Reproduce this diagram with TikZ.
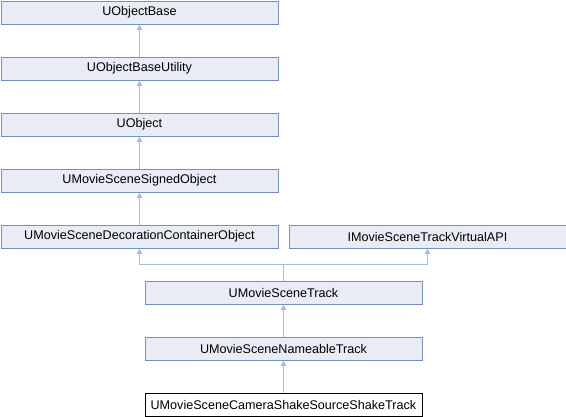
\documentclass[tikz,border=0pt]{standalone}
\usepackage{fontspec}
\setmainfont{Liberation Sans}
\usetikzlibrary{arrows.meta}
\definecolor{boxfill}{HTML}{E8ECF5}
\definecolor{boxdraw}{HTML}{7A8EC6}
\definecolor{edgecol}{HTML}{93C4E2}
\tikzset{
  cls/.style={draw=boxdraw, fill=boxfill, line width=0.9pt, minimum width=277pt, minimum height=23.5pt, inner sep=0pt, anchor=north west, font=\fontsize{12.6pt}{14pt}\selectfont},
  clsmain/.style={cls, draw=black, fill=white},
  inh/.style={draw=edgecol, line width=0.9pt, -{Triangle[width=5.5pt,length=5pt]}}
}
\begin{document}
\begin{tikzpicture}[x=1pt,y=-1pt]
\useasboundingbox (0,0) rectangle (566,416);
\node[cls] (a) at (0.5,0.5) {UObjectBase};
\node[cls] (b) at (0.5,56.5) {UObjectBaseUtility};
\node[cls] (c) at (0.5,112.5) {UObject};
\node[cls] (d) at (0.5,168.5) {UMovieSceneSignedObject};
\node[cls] (e) at (0.5,224.5) {UMovieSceneDecorationContainerObject};
\node[cls] (f) at (288.5,224.5) {IMovieSceneTrackVirtualAPI};
\node[cls] (g) at (144.5,280.5) {UMovieSceneTrack};
\node[cls] (h) at (144.5,336.5) {UMovieSceneNameableTrack};
\node[clsmain] (i) at (144.5,392.5) {UMovieSceneCameraShakeSourceShakeTrack};
\draw[inh] (b.north) -- (a.south);
\draw[inh] (c.north) -- (b.south);
\draw[inh] (d.north) -- (c.south);
\draw[inh] (e.north) -- (d.south);
\coordinate (j) at (g.north |- 0,264);
\draw[edgecol, line width=0.9pt] (g.north) -- (j);
\draw[inh] (j) -| (e.south);
\draw[inh] (j) -| (f.south);
\draw[inh] (h.north) -- (g.south);
\draw[inh] (i.north) -- (h.south);
\end{tikzpicture}
\end{document}
